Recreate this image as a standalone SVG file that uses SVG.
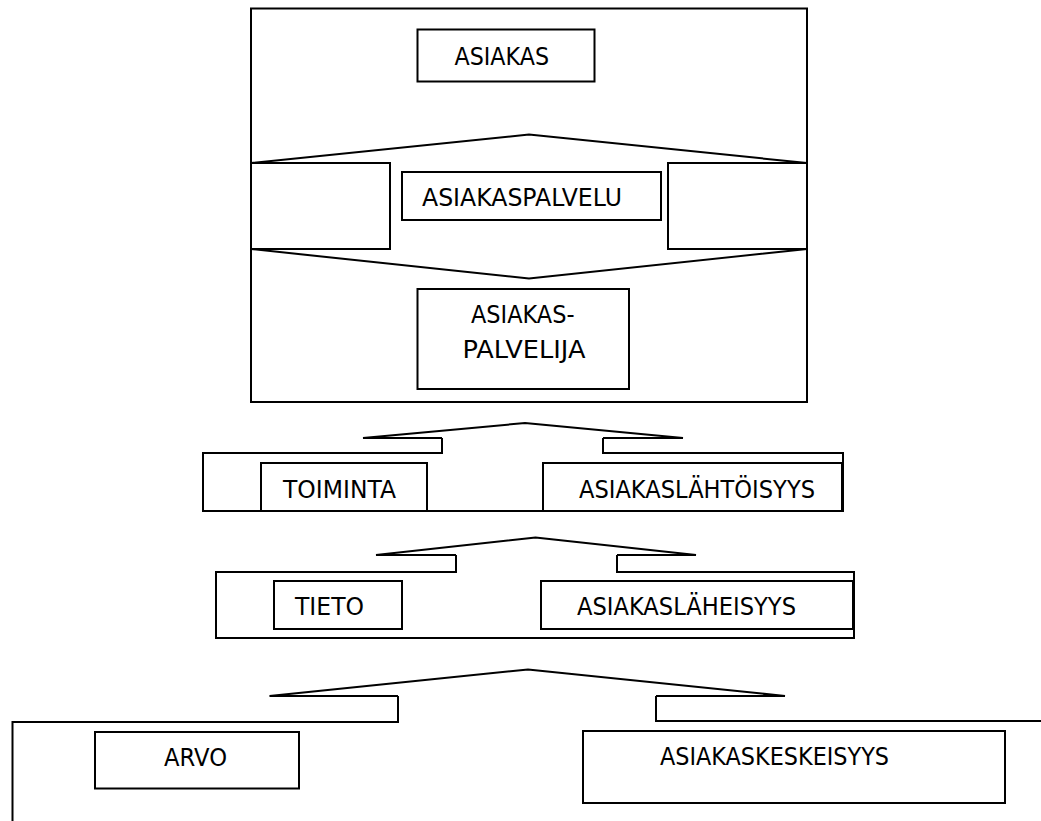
<svg xmlns="http://www.w3.org/2000/svg" width="1041" height="821" viewBox="0 0 1041 821">
<style>
.b{fill:#fff;stroke:#000;stroke-width:2}
.l{fill:none;stroke:#000;stroke-width:2}
.t{font-family:"DejaVu Sans","Liberation Sans",sans-serif;font-size:24px;fill:#000}
</style>
<rect width="1041" height="821" fill="#fff"/>
<g id="frame-top"><rect class="b" x="251" y="8.5" width="556" height="393.5"/></g>
<g id="side-left"><rect class="b" x="251" y="163" width="139" height="86"/></g>
<g id="side-right"><rect class="b" x="668" y="163" width="139" height="86"/></g>
<g id="frame-tier1"><path class="l" d="M442,438 V453 H203 V511 H843 V453 H603 V438"/></g>
<g id="frame-tier2"><path class="l" d="M456,555 V572 H216 V638 H854 V572 H617 V555"/></g>
<g id="frame-tier3"><path class="l" d="M398,696 V722 H12.5 V830 M656,696 V721 H1050"/></g>
<g id="connectors">
<polyline class="l" points="251,163 529,134.5 807,163"/>
<polyline class="l" points="251,249 529,278.5 807,249"/>
<polyline class="l" points="442,438 363,438 525,423 683,438 603,438"/>
<polyline class="l" points="456,555 376,555 535.5,537.5 696,555 617,555"/>
<polyline class="l" points="398,696 269.5,696 528,669.5 785,696 656,696"/>
</g>
<g id="asiakas"><rect class="b" x="417.5" y="29.5" width="177" height="52"/><text class="t" x="454.5" y="65" textLength="94.5" lengthAdjust="spacingAndGlyphs">ASIAKAS</text></g>
<g id="asiakaspalvelu"><rect class="b" x="402" y="172" width="259" height="48"/><text class="t" x="422" y="206" textLength="200" lengthAdjust="spacingAndGlyphs">ASIAKASPALVELU</text></g>
<g id="asiakaspalvelija"><rect class="b" x="417.5" y="289" width="211.5" height="100"/><text class="t" x="471" y="323" textLength="103.5" lengthAdjust="spacingAndGlyphs">ASIAKAS-</text><text class="t" x="462.5" y="358" textLength="123" lengthAdjust="spacingAndGlyphs">PALVELIJA</text></g>
<g id="toiminta"><rect class="b" x="261" y="463" width="166" height="48"/><text class="t" x="283" y="497.5" textLength="113" lengthAdjust="spacingAndGlyphs">TOIMINTA</text></g>
<g id="asiakaslahtoisyys"><rect class="b" x="543" y="463" width="299" height="48"/><text class="t" x="579" y="497.5" textLength="236" lengthAdjust="spacingAndGlyphs">ASIAKASLÄHTÖISYYS</text></g>
<g id="tieto"><rect class="b" x="274" y="581" width="128" height="48"/><text class="t" x="295" y="615" textLength="69" lengthAdjust="spacingAndGlyphs">TIETO</text></g>
<g id="asiakaslaheisyys"><rect class="b" x="541" y="581" width="312" height="48"/><text class="t" x="577" y="615" textLength="219" lengthAdjust="spacingAndGlyphs">ASIAKASLÄHEISYYS</text></g>
<g id="arvo"><rect class="b" x="95" y="732" width="204" height="56.5"/><text class="t" x="164" y="766" textLength="63" lengthAdjust="spacingAndGlyphs">ARVO</text></g>
<g id="asiakaskeskeisyys"><rect class="b" x="583" y="731" width="422" height="72"/><text class="t" x="660" y="765" textLength="229" lengthAdjust="spacingAndGlyphs">ASIAKASKESKEISYYS</text></g>
</svg>
